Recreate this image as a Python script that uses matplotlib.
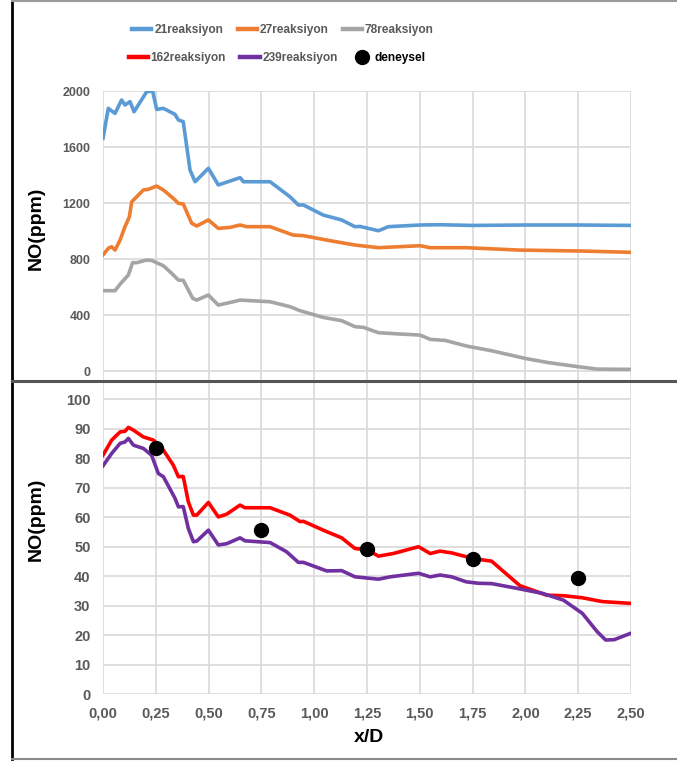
import numpy as np
import matplotlib.pyplot as plt
from matplotlib.lines import Line2D
from matplotlib.ticker import FuncFormatter

# NO profiles along the axis (x/D), upper panel: mechanisms in ppm
x21 = [0, 0.025, 0.057, 0.088, 0.104, 0.128, 0.147, 0.207, 0.235, 0.254, 0.286, 0.341, 0.357, 0.38,
       0.412, 0.436, 0.499, 0.546, 0.649, 0.665, 0.791, 0.885, 0.925, 0.949, 1.043, 1.13, 1.193,
       1.217, 1.304, 1.351, 1.501, 1.596, 1.75, 2.0, 2.25, 2.5]
no21 = [1662, 1876, 1840, 1936, 1900, 1924, 1852, 1995, 2000, 1869, 1876, 1833, 1793, 1781,
        1436, 1352, 1448, 1329, 1381, 1352, 1352, 1245, 1186, 1186, 1114, 1079, 1031,
        1033, 1002, 1031, 1043, 1045, 1040, 1043, 1043, 1040]

x27 = [0, 0.025, 0.041, 0.057, 0.081, 0.104, 0.125, 0.136, 0.152, 0.191, 0.215, 0.254, 0.286,
       0.333, 0.357, 0.38, 0.42, 0.444, 0.499, 0.546, 0.601, 0.649, 0.68, 0.791, 0.901, 0.949,
       1.075, 1.193, 1.304, 1.501, 1.55, 1.72, 1.97, 2.27, 2.5]
no27 = [829, 876, 888, 864, 936, 1031, 1102, 1209, 1233, 1293, 1298, 1321, 1293,
        1233, 1198, 1193, 1055, 1036, 1079, 1019, 1026, 1043, 1031, 1031, 971, 967,
        931, 900, 881, 895, 881, 881, 864, 857, 848]

x78 = [0, 0.057, 0.081, 0.12, 0.14, 0.16, 0.207, 0.23, 0.286, 0.325, 0.357, 0.38, 0.425, 0.444,
       0.499, 0.546, 0.617, 0.649, 0.791, 0.885, 0.933, 1.043, 1.13, 1.193, 1.233, 1.304, 1.39,
       1.501, 1.55, 1.62, 1.72, 1.84, 2.0, 2.11, 2.25, 2.34, 2.5]
no78 = [574, 574, 621, 686, 774, 774, 793, 790, 752, 698, 650, 648, 519, 507,
        543, 471, 495, 507, 495, 460, 431, 383, 360, 317, 312, 274, 266,
        257, 226, 219, 179, 145, 90, 60, 31, 14, 12]

# lower panel
x162 = [0, 0.041, 0.081, 0.104, 0.12, 0.144, 0.191, 0.239, 0.286, 0.333, 0.357, 0.38, 0.404,
        0.428, 0.444, 0.499, 0.546, 0.585, 0.649, 0.672, 0.791, 0.885, 0.933, 0.949, 1.043,
        1.13, 1.193, 1.25, 1.304, 1.375, 1.494, 1.549, 1.596, 1.651, 1.753, 1.84, 1.974, 2.1,
        2.18, 2.27, 2.365, 2.5]
no162 = [81.0, 86.1, 88.9, 89.1, 90.4, 89.5, 87.2, 86.1, 82.7, 77.6, 73.7, 73.8, 65.2,
         60.7, 60.7, 65.0, 60.1, 61.0, 64.1, 63.2, 63.2, 60.7, 58.5, 58.6, 55.6,
         53.0, 49.4, 49.0, 46.8, 47.7, 50.0, 47.7, 48.5, 47.9, 46.0, 45.1, 36.8, 33.6,
         33.4, 32.7, 31.4, 30.8]

x239 = [0, 0.041, 0.081, 0.104, 0.12, 0.144, 0.191, 0.23, 0.262, 0.286, 0.341, 0.357, 0.38,
        0.404, 0.428, 0.444, 0.499, 0.546, 0.585, 0.649, 0.672, 0.791, 0.869, 0.925, 0.949,
        1.059, 1.13, 1.193, 1.304, 1.36, 1.494, 1.549, 1.596, 1.651, 1.72, 1.78, 1.84, 1.96,
        2.08, 2.18, 2.27, 2.34, 2.38, 2.42, 2.5]
no239 = [77.4, 81.6, 85.0, 85.5, 86.7, 84.4, 83.3, 81.0, 74.8, 73.7, 66.4, 63.5, 63.6,
         56.2, 51.7, 51.9, 55.6, 50.6, 51.0, 53.0, 52.0, 51.4, 48.3, 44.7, 44.7,
         41.8, 41.9, 39.8, 39.0, 39.8, 41.0, 39.8, 40.4, 39.8, 38.1, 37.6, 37.5, 35.9,
         34.2, 31.9, 27.4, 21.2, 18.4, 18.5, 20.7]

x_exp = [0.25, 0.75, 1.25, 1.75, 2.25]
no_exp = [83.3, 55.5, 49.2, 46.0, 39.5]

font = 'Liberation Sans'
tick_col = '#595959'
grid_col = '#d9d9d9'

fig = plt.figure(figsize=(6.77, 7.62), dpi=100)
W, H = 677, 762

def px_axes(x0, y0, x1, y1):
    return fig.add_axes([x0 / W, 1 - y1 / H, (x1 - x0) / W, (y1 - y0) / H])

ax1 = px_axes(103, 91, 631, 381)
ax2 = px_axes(103, 382, 631, 694.3)

lw = 2.6
l21, = ax1.plot(x21, no21, color='#5b9bd5', lw=lw, label='21reaksiyon')
l27, = ax1.plot(x27, no27, color='#ed7d31', lw=lw, label='27reaksiyon')
l78, = ax1.plot(x78, no78, color='#a5a5a5', lw=lw, label='78reaksiyon')
l162, = ax2.plot(x162, no162, color='#ff0000', lw=lw, label='162reaksiyon')
l239, = ax2.plot(x239, no239, color='#7030a0', lw=lw, label='239reaksiyon')
dexp, = ax2.plot(x_exp, no_exp, 'o', color='black', ms=10, label='deneysel', zorder=5)

xt = np.arange(0, 2.51, 0.25)
for ax in (ax1, ax2):
    ax.set_xlim(0, 2.5)
    ax.set_xticks(xt)
    ax.grid(True, color=grid_col, lw=1.2)
    ax.set_axisbelow(True)
    for s in ax.spines.values():
        s.set_visible(False)
    ax.tick_params(length=0, colors=tick_col)

ax1.set_ylim(-71, 2000)
ax1.set_yticks(np.arange(0, 2001, 400))
ax1.set_xticklabels([])
ax1.tick_params(axis='y', pad=9)
for t in ax1.get_yticklabels():
    t.set_fontfamily(font)
    t.set_fontweight('bold')
    t.set_fontsize(9)

ax2.set_ylim(0, 105.8)
ax2.set_yticks(np.arange(0, 101, 10))
ax2.xaxis.set_major_formatter(FuncFormatter(lambda v, p: f'{v:.2f}'.replace('.', ',')))
ax2.tick_params(axis='y', pad=9)
ax2.tick_params(axis='x', pad=9)
for t in ax2.get_yticklabels() + ax2.get_xticklabels():
    t.set_fontfamily(font)
    t.set_fontweight('bold')
    t.set_fontsize(10.5)

fig.text(36 / W, 1 - 228 / H, 'NO(ppm)', rotation=90, ha='center', va='center',
         fontsize=14, fontweight='bold', family=font)
fig.text(36 / W, 1 - 519 / H, 'NO(ppm)', rotation=90, ha='center', va='center',
         fontsize=14, fontweight='bold', family=font)
fig.text(369 / W, 1 - 737 / H, 'x/D', ha='center', va='center',
         fontsize=14, fontweight='bold', family=font)

leg_kw = dict(frameon=False, ncol=3, handlelength=1.6, handletextpad=0.25,
              columnspacing=1.2, borderaxespad=0,
              prop=dict(family=font, weight='bold', size=8.6))
leg1 = fig.legend(handles=[l21, l27, l78], loc='center', bbox_to_anchor=(283 / W, 1 - 30 / H), **leg_kw)
leg2 = fig.legend(handles=[l162, l239, dexp], loc='center', bbox_to_anchor=(277 / W, 1 - 58 / H), **leg_kw)
for leg in (leg1, leg2):
    for t in leg.get_texts():
        t.set_color(tick_col)
    for h in leg.legend_handles:
        if isinstance(h, Line2D) and h.get_linestyle() == '-':
            h.set_linewidth(3.2)
leg2.get_texts()[2].set_color('black')

# frame around the two panels
frame = [([11.5, 11.5], [0, 759], 'black', 2.0),
         ([11.5, 677], [0.8, 0.8], '#9a9a9a', 1.5),
         ([11.5, 677], [381.5, 381.5], '#555555', 2.2),
         ([11.5, 677], [758.5, 758.5], '#8a8a8a', 1.5)]
for xs, ys, c, w in frame:
    fig.add_artist(Line2D([x / W for x in xs], [1 - y / H for y in ys], color=c, lw=w))

fig.savefig('out.png', dpi=100)
